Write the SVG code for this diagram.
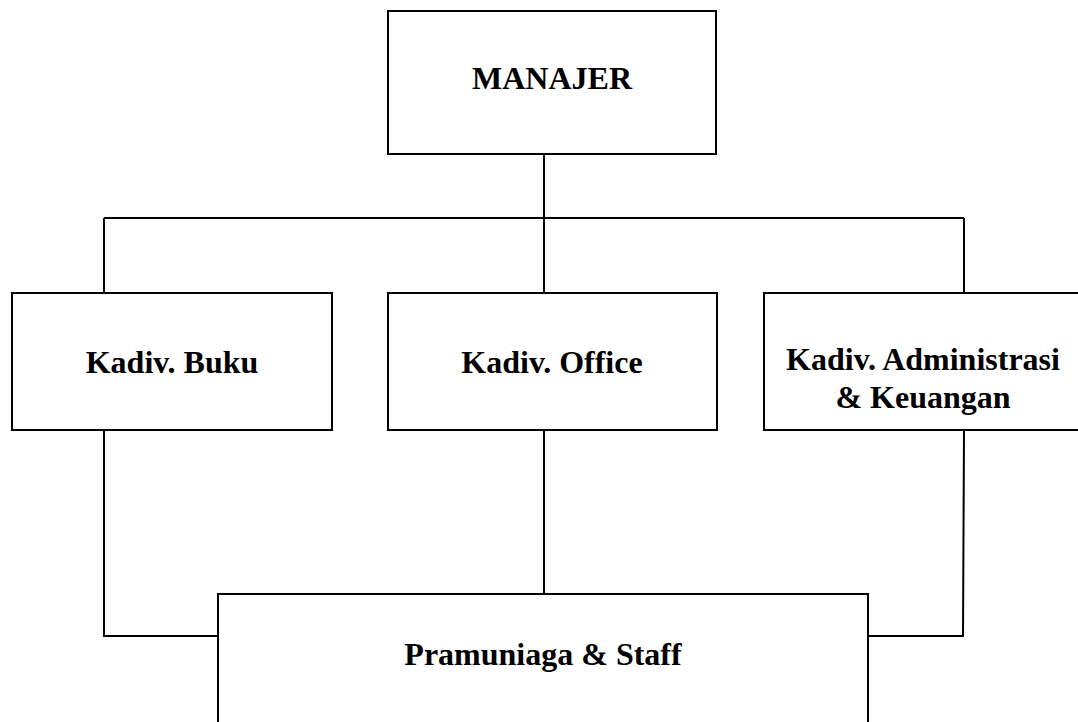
<svg xmlns="http://www.w3.org/2000/svg" width="1078" height="722" viewBox="0 0 1078 722">
<style>
.box{fill:#fff;stroke:#000;stroke-width:2}
.lbl{font-family:"Liberation Serif","Times New Roman",serif;font-weight:bold;font-size:32px;fill:#000;text-anchor:middle}
.conn{fill:none;stroke:#000;stroke-width:2}
</style>
<rect width="1078" height="722" fill="#fff"/>
<g id="connectors">
<path class="conn" d="M544 154V218M104 218H964M104 218V293M544 218V293M964 218V293"/>
<path class="conn" d="M104 430V636H218"/>
<path class="conn" d="M544 430V594"/>
<path class="conn" d="M964 430L963 636H868"/>
</g>
<g id="manajer"><rect class="box" x="388" y="11" width="328" height="143"/><text class="lbl" x="552" y="89">MANAJER</text></g>
<g id="kadiv-buku"><rect class="box" x="12" y="293" width="320" height="137"/><text class="lbl" x="172" y="373">Kadiv. Buku</text></g>
<g id="kadiv-office"><rect class="box" x="388" y="293" width="329" height="137"/><text class="lbl" x="552" y="373">Kadiv. Office</text></g>
<g id="kadiv-admin"><rect class="box" x="764" y="293" width="330" height="137"/><text class="lbl" x="923" y="370">Kadiv. Administrasi</text><text class="lbl" x="923" y="408">&amp; Keuangan</text></g>
<g id="pramuniaga"><rect class="box" x="218" y="594" width="650" height="160"/><text class="lbl" x="543" y="665">Pramuniaga &amp; Staff</text></g>
</svg>
